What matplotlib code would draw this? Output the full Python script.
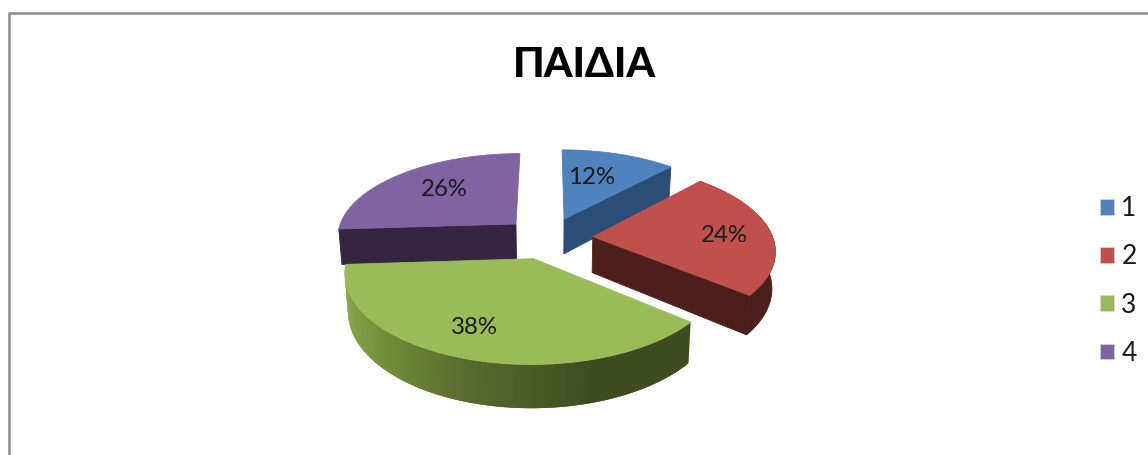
import numpy as np
import matplotlib
matplotlib.use("Agg")
import matplotlib.pyplot as plt
from matplotlib.patches import Polygon, Patch
from matplotlib.colors import LinearSegmentedColormap

plt.rcParams['font.family'] = ['Lato', 'Open Sans', 'DejaVu Sans']

# data
categories = ["1", "2", "3", "4"]
values = [12, 24, 38, 26]
title = "ΠΑΙΔΙΑ"

# colours
top_colors = ["#4F81BD", "#C0504D", "#9BBB59", "#8064A2"]
side_colors = ["#2C4D75", "#4D1F1C", "#3F4C22", "#35263F"]
green_rim = LinearSegmentedColormap.from_list(
    "green_rim", ["#90AD55", "#7A963F", "#5A6B2E", "#3F4C22", "#3F4C22"])

# label centres in pixels
label_xy = [(592, 178), (724, 235), (474, 328), (444, 190)]

# 3d view, fitted to the picture (pixels)
xc, yc = 548, 238
rx, ry = 180, 84.1
persp = 0.143
depth = 36
explode = 0.25
shrink = 0.985


def project(X, Y, bottom=False):
    s = 1 / (1 + persp * Y)
    x = xc + rx * X * s
    y = yc - ry * Y * s
    if bottom:
        x = xc + (x - xc) * shrink
        y = y + depth * s
    return x, y


def slice_xy(a0, a1, bottom=False):
    # outer arc of a slice, angles clockwise from 12 o'clock in degrees
    mid = np.radians((a0 + a1) / 2)
    ang = np.radians(np.linspace(a0, a1, 120))
    cx, cy = explode * np.sin(mid), explode * np.cos(mid)
    return project(cx + np.sin(ang), cy + np.cos(ang), bottom), project(cx, cy, bottom)


fig = plt.figure(figsize=(11.48, 4.55), dpi=100)
ax = fig.add_axes([0, 0, 1, 1])
ax.set_xlim(0, 1148)
ax.set_ylim(455, 0)
ax.axis("off")

# chart frame
ax.plot([9, 9, 1148], [455, 13, 13], color="#8C8C8C", lw=1.8, solid_joinstyle="miter")

shares = np.array(values) / sum(values) * 360
ends = np.cumsum(shares)
starts = ends - shares


def draw_slice(i):
    (ax_, ay_), (px, py) = slice_xy(starts[i], ends[i])
    (bx, by), (qx, qy) = slice_xy(starts[i], ends[i], bottom=True)
    # outer wall, only slices 2 and 3 show it
    if i == 1:
        wall = list(zip(ax_, ay_)) + list(zip(bx[::-1], by[::-1]))
        ax.add_patch(Polygon(wall, fc=side_colors[i], ec=side_colors[i], lw=0.6))
    if i == 2:
        n = len(ax_)
        for j in range(n - 1):
            c = green_rim(1 - j / (n - 2))
            # each strip reaches over the next one so no seams show
            e = min(j + 2, n - 1)
            quad = [(ax_[j], ay_[j]), (ax_[e], ay_[e]), (bx[e], by[e]), (bx[j], by[j])]
            ax.add_patch(Polygon(quad, fc=c, ec="none"))
    # cut wall that faces the viewer
    if i in (0, 1):
        k = -1
    elif i == 3:
        k = 0
    else:
        k = None
    if k is not None:
        wall = [(px, py), (ax_[k], ay_[k]), (bx[k], by[k]), (qx, qy)]
        ax.add_patch(Polygon(wall, fc=side_colors[i], ec=side_colors[i], lw=0.6))
    # top
    pts = [(px, py)] + list(zip(ax_, ay_))
    ax.add_patch(Polygon(pts, fc=top_colors[i], ec=top_colors[i], lw=0.6))


for i in [3, 0, 1, 2]:
    draw_slice(i)

for v, (lx, ly) in zip(values, label_xy):
    ax.text(lx, ly, f"{v}%", ha="center", va="center", fontsize=17.3, color="#1A1A1A")

ax.text(584.5, 65, title, ha="center", va="center", fontsize=29.5, fontweight="black", color="black")

handles = [Patch(fc=c, ec="#D8D8D8", lw=0.5) for c in top_colors]
ax.legend(handles, categories, loc="center left", bbox_to_anchor=(1100, 281),
          bbox_transform=ax.transData, frameon=False, fontsize=19,
          handlelength=0.53, handleheight=0.53, handletextpad=0.28,
          labelspacing=0.88, borderpad=0, borderaxespad=0, labelcolor="#1A1A1A")

fig.savefig("out.png", dpi=100)
